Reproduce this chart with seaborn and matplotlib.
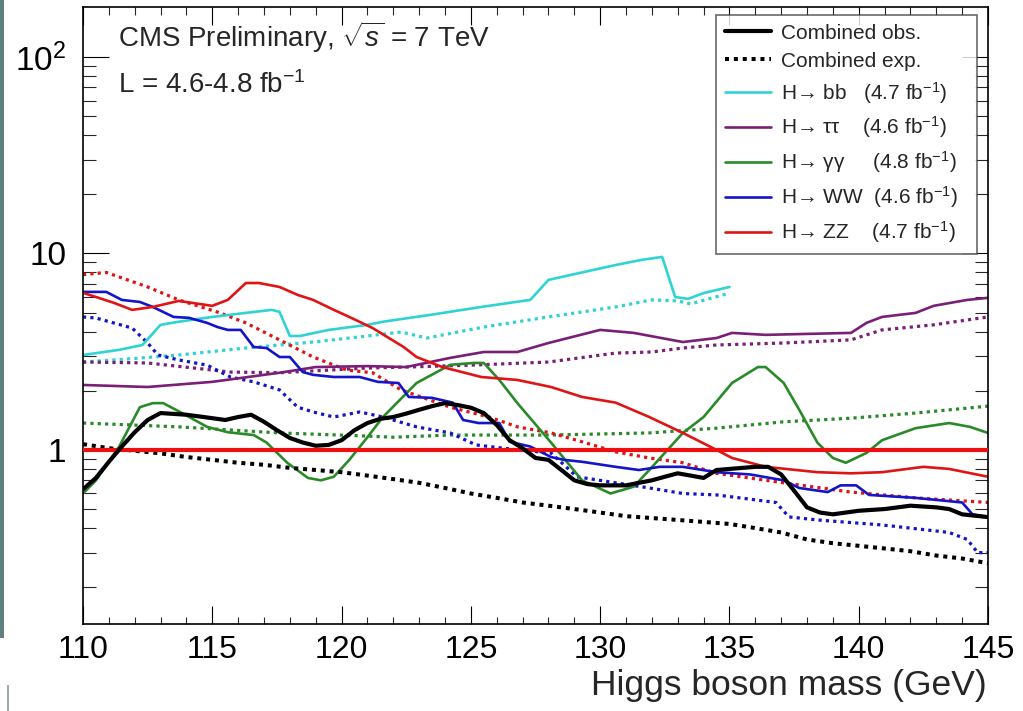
import numpy as np
import pandas as pd
import matplotlib
matplotlib.use("Agg")
import matplotlib.pyplot as plt
from matplotlib.ticker import FixedLocator, LogLocator, NullFormatter, FixedFormatter
from matplotlib.patches import Rectangle
import seaborn as sns

# ---------------- data ----------------
mass_comb_obs = [110, 110.5, 111, 111.5, 112, 112.5, 113, 114, 115, 115.5, 116, 116.5, 117, 117.5, 118, 118.5,
                 119, 119.5, 120, 120.5, 121, 121.5, 122, 122.5, 123, 123.5, 124, 124.5, 125, 125.5, 126, 126.5,
                 127, 127.5, 128, 128.5, 129, 129.5, 130, 131, 131.5, 132, 132.5, 133, 133.5, 134, 134.5, 135,
                 136, 136.5, 137, 137.5, 138, 138.5, 139, 140, 141, 142, 143, 143.5, 144, 145]
comb_obs = [0.63, 0.72, 0.87, 1.04, 1.23, 1.42, 1.54, 1.51, 1.45, 1.42, 1.47, 1.51, 1.39, 1.26, 1.15, 1.09,
            1.05, 1.06, 1.12, 1.26, 1.37, 1.44, 1.47, 1.53, 1.60, 1.67, 1.73, 1.69, 1.64, 1.54, 1.34, 1.12,
            1.02, 0.91, 0.89, 0.79, 0.70, 0.67, 0.66, 0.66, 0.68, 0.70, 0.73, 0.76, 0.74, 0.72, 0.79, 0.80,
            0.82, 0.82, 0.75, 0.62, 0.51, 0.48, 0.47, 0.49, 0.50, 0.52, 0.51, 0.50, 0.47, 0.455]

mass_comb_exp = list(range(110, 146))
comb_exp = [1.07, 1.02, 0.99, 0.96, 0.92, 0.89, 0.86, 0.84, 0.81, 0.79,
            0.77, 0.74, 0.71, 0.68, 0.64, 0.60, 0.57, 0.54, 0.52, 0.50,
            0.48, 0.46, 0.45, 0.44, 0.43, 0.42, 0.40, 0.38, 0.35, 0.335,
            0.325, 0.315, 0.305, 0.29, 0.28, 0.265]

mass_bb_obs = [110, 111.4, 112.3, 113, 113.7, 115, 116.3, 117.3, 117.6, 118, 118.4, 119.5, 121, 121.6, 123.4,
               125.4, 127.3, 128, 129.2, 130.6, 131.6, 132.4, 132.9, 133.4, 134, 135]
bb_obs = [3.04, 3.23, 3.42, 4.33, 4.49, 4.75, 4.98, 5.16, 5.04, 3.80, 3.80, 4.08, 4.33, 4.49, 4.86,
          5.34, 5.80, 7.33, 7.95, 8.73, 9.27, 9.6, 6.0, 5.87, 6.28, 6.75]
mass_bb_exp = [110, 112, 113.7, 116.3, 119, 121, 122.3, 123.3, 125.5, 128, 130.6, 132, 133, 133.5, 135]
bb_exp = [2.80, 2.92, 3.04, 3.30, 3.55, 3.80, 3.98, 3.71, 4.22, 4.75, 5.34, 5.8, 5.73, 5.53, 6.28]

mass_tt_obs = [110, 112.5, 115, 117.6, 119, 121, 122.5, 124.2, 125.5, 126.8, 128, 130, 131.3, 133.2, 134.5,
               135.1, 136.4, 139.7, 140.3, 140.9, 142.2, 142.9, 144.2, 145]
tt_obs = [2.14, 2.09, 2.22, 2.47, 2.64, 2.67, 2.64, 2.94, 3.15, 3.15, 3.50, 4.08, 3.94, 3.54, 3.71,
          3.94, 3.85, 3.94, 4.43, 4.75, 4.98, 5.41, 5.80, 5.94]
mass_tt_exp = [110, 112.5, 115.7, 117.6, 121, 122.5, 125, 128, 130.6, 132, 133.2, 134.5, 137.1, 139.7, 140.9,
               142.9, 145]
tt_exp = [2.80, 2.77, 2.49, 2.47, 2.61, 2.64, 2.70, 2.80, 3.11, 3.15, 3.30, 3.42, 3.50, 3.63, 4.08, 4.33, 4.75]

mass_gg_obs = [110, 110.5, 111, 111.4, 112.2, 112.7, 113.1, 113.75, 114.8, 115.6, 116.6, 117.1, 117.9, 118.7,
               119.2, 119.7, 120.3, 121, 121.6, 122.9, 124.2, 125.1, 125.5, 126.1, 126.8, 128.1, 129.3, 130.4,
               131.3, 131.9, 133.2, 134, 135.1, 136.1, 136.4, 137.1, 137.7, 138.4, 139, 139.5, 140.3, 140.9,
               142.2, 143.5, 144.3, 145]
gg_obs = [0.60, 0.70, 0.87, 1.04, 1.65, 1.73, 1.73, 1.56, 1.31, 1.23, 1.19, 1.09, 0.86, 0.72,
          0.70, 0.73, 0.89, 1.16, 1.47, 2.19, 2.71, 2.77, 2.77, 2.27, 1.73, 1.09, 0.70, 0.60,
          0.65, 0.79, 1.22, 1.47, 2.19, 2.64, 2.64, 2.19, 1.60, 1.09, 0.91, 0.86, 0.965, 1.12,
          1.29, 1.37, 1.31, 1.22]
mass_gg_exp = [110, 113.7, 117.6, 120.7, 122, 124.2, 128, 131.9, 134.5, 137.1, 139.7, 142.2, 145]
gg_exp = [1.37, 1.31, 1.22, 1.18, 1.16, 1.19, 1.19, 1.22, 1.29, 1.39, 1.45, 1.54, 1.67]

mass_ww_obs = [110, 110.9, 111.5, 112.2, 112.7, 113.5, 114.1, 114.8, 115.2, 115.6, 116.1, 116.6, 117.1, 117.6,
               118, 118.5, 118.9, 119.7, 120.7, 121.4, 122.2, 122.6, 123.5, 124.3, 124.7, 125.3, 126.1, 126.5,
               127.3, 128.1, 128.6, 129.3, 130.6, 131.5, 132.3, 133.2, 134.5, 135.8, 137.1, 137.7, 138.8,
               139.3, 139.9, 140.4, 142.2, 144, 144.4, 145]
ww_obs = [6.37, 6.37, 5.80, 5.66, 5.34, 4.75, 4.70, 4.43, 4.22, 4.08, 4.08, 3.34, 3.30, 2.97,
          2.97, 2.49, 2.41, 2.35, 2.35, 2.22, 2.19, 1.86, 1.84, 1.74, 1.42, 1.37, 1.37, 1.10,
          1.04, 0.92, 0.89, 0.87, 0.82, 0.79, 0.82, 0.82, 0.77, 0.75, 0.70, 0.64, 0.61,
          0.66, 0.66, 0.59, 0.57, 0.54, 0.47, 0.456]
mass_ww_exp = [110, 110.5, 111.9, 112.5, 112.9, 113.7, 114.8, 115.7, 116.6, 117.6, 118.3, 118.9, 119.7, 120.7,
               121.2, 121.6, 122.9, 124.2, 125.2, 126.8, 128.1, 129.1, 130.6, 131.9, 133.2, 134.5, 136.8,
               137.3, 138.4, 140.9, 143.5, 144.2, 144.6, 145]
ww_exp = [4.75, 4.69, 4.17, 3.50, 3.04, 2.87, 2.70, 2.35, 2.22, 2.02, 1.65, 1.56, 1.47, 1.56,
          1.51, 1.47, 1.31, 1.22, 1.06, 1.0, 0.965, 0.73, 0.68, 0.64, 0.60, 0.59, 0.54,
          0.456, 0.44, 0.415, 0.38, 0.35, 0.30, 0.30]

mass_zz_obs = [110, 110.5, 111.2, 111.9, 112.7, 113.7, 115, 115.6, 116.3, 116.8, 117.6, 118.3, 118.9, 119.7,
               120.3, 121.2, 122.4, 122.9, 123.9, 125.4, 126.8, 128.1, 129.3, 130.6, 131.9, 133.2, 134.5,
               135.1, 136.4, 138.4, 139.7, 140.9, 142.5, 143.5, 145]
zz_obs = [6.3, 6.0, 5.60, 5.16, 5.34, 5.73, 5.41, 5.80, 7.07, 7.07, 6.75, 6.15, 5.80, 5.16,
          4.75, 4.17, 3.34, 2.97, 2.64, 2.35, 2.27, 2.09, 1.86, 1.74, 1.47, 1.22, 1.0,
          0.91, 0.82, 0.77, 0.76, 0.77, 0.82, 0.80, 0.73]
mass_zz_exp = [110, 110.9, 112.5, 113.7, 115.3, 116.3, 117.6, 118.9, 120.2, 121.2, 122.3, 124.2, 125.7, 126.8,
               128.1, 129.3, 130.6, 131.9, 133.2, 134.5, 137.1, 139.7, 142.2, 145]
zz_exp = [7.8, 8.0, 6.75, 5.80, 4.98, 4.43, 3.63, 2.97, 2.55, 2.47, 2.02, 1.65, 1.47, 1.31,
          1.22, 1.10, 0.977, 0.91, 0.86, 0.76, 0.68, 0.61, 0.57, 0.54]

ref_level = 1.0
x_ticks = [110, 115, 120, 125, 130, 135, 140, 145]
y_ticks = [1, 10, 100]
y_tick_labels = ["1", "10", "$10^{2}$"]

channels = ["H\u2192 bb", "H\u2192 \u03c4\u03c4", "H\u2192 \u03b3\u03b3", "H\u2192 WW", "H\u2192 ZZ"]
lumis = ["4.7", "4.6", "4.8", "4.6", "4.7"]
pads = ["   ", "    ", "     ", "  ", "    "]

# ---------------- style ----------------
sns.set_style("ticks")
plt.rcParams["font.family"] = ["Liberation Sans", "DejaVu Sans"]
plt.rcParams["mathtext.fontset"] = "custom"
plt.rcParams["mathtext.rm"] = "Liberation Sans"
plt.rcParams["mathtext.it"] = "Liberation Sans:italic"
plt.rcParams["mathtext.bf"] = "Liberation Sans:bold"

W, H = 1023, 711
fig = plt.figure(figsize=(W / 100, H / 100), dpi=100)
fig.patch.set_facecolor("white")
L, R, T, B = 83, 988, 7, 624
ax = fig.add_axes([L / W, 1 - B / H, (R - L) / W, (B - T) / H])

col = {"bb": "#2fd3d3", "tt": "#7a1f78", "gg": "#2a8a2a", "ww": "#1414c8", "zz": "#e01414"}
dot_c = (0, (1, 1.3))
dot_k = (0, (1, 1.2))

series = [
    (mass_bb_obs, bb_obs, mass_bb_exp, bb_exp, col["bb"]),
    (mass_tt_obs, tt_obs, mass_tt_exp, tt_exp, col["tt"]),
    (mass_gg_obs, gg_obs, mass_gg_exp, gg_exp, col["gg"]),
    (mass_ww_obs, ww_obs, mass_ww_exp, ww_exp, col["ww"]),
    (mass_zz_obs, zz_obs, mass_zz_exp, zz_exp, col["zz"]),
]

for mo, vo, me, ve, c in series:
    sns.lineplot(x=me, y=ve, ax=ax, color=c, linewidth=2.3, estimator=None, sort=False, legend=False)
    ax.lines[-1].set_linestyle(dot_c)
    ax.lines[-1].set_dash_capstyle("butt")
for mo, vo, me, ve, c in series:
    sns.lineplot(x=mo, y=vo, ax=ax, color=c, linewidth=1.9, estimator=None, sort=False, legend=False)

sns.lineplot(x=mass_comb_exp, y=comb_exp, ax=ax, color="black", linewidth=2.9,
             estimator=None, sort=False, legend=False)
ax.lines[-1].set_linestyle(dot_k)
ax.lines[-1].set_dash_capstyle("butt")
ax.axhline(ref_level, color="#ee1010", linewidth=3.0, zorder=5)
sns.lineplot(x=mass_comb_obs, y=comb_obs, ax=ax, color="black", linewidth=3.0,
             estimator=None, sort=False, legend=False)
ax.lines[-1].set_zorder(6)

ax.set_yscale("log")
ax.set_xlim(110, 145)
ax.set_ylim(0.130, 179.5)
ax.set_xlabel("")
ax.set_ylabel("")

ax.xaxis.set_major_locator(FixedLocator(x_ticks))
ax.xaxis.set_minor_locator(FixedLocator(np.arange(110, 146, 1)))
ax.yaxis.set_major_locator(FixedLocator(y_ticks))
ax.yaxis.set_major_formatter(FixedFormatter(y_tick_labels))
ax.yaxis.set_minor_locator(LogLocator(base=10, subs=np.arange(2, 10)))
ax.yaxis.set_minor_formatter(NullFormatter())

ax.tick_params(axis="x", which="major", direction="in", length=13, width=0.8, top=True,
               labelsize=23, pad=8, colors="black")
ax.tick_params(axis="x", which="minor", direction="in", length=5.4, width=0.8, top=True)
ax.tick_params(axis="y", which="major", direction="in", length=19, width=0.8, right=True,
               labelsize=24, pad=12, colors="black")
ax.tick_params(axis="y", which="minor", direction="in", length=9.4, width=0.8, right=True)
for s in ax.spines.values():
    s.set_linewidth(1.2)
    s.set_color("black")

# legend
handles, labels = [], []
h_obs = plt.Line2D([], [], color="black", linewidth=3.0)
h_exp = plt.Line2D([], [], color="black", linewidth=2.9, linestyle=dot_k, dash_capstyle="butt")
handles += [h_obs, h_exp]
labels += ["Combined obs.", "Combined exp."]
for (mo, vo, me, ve, c), ch, lu, p in zip(series, channels, lumis, pads):
    handles.append(plt.Line2D([], [], color=c, linewidth=1.9))
    labels.append(ch + p + "(" + lu + " fb$^{-1}$)")

leg = ax.legend(handles, labels, loc="upper left",
                bbox_to_anchor=((716 - L) / (R - L), (B - 15) / (B - T), (977 - 716) / (R - L), 0.0),
                mode="expand", borderaxespad=0, fontsize=15, handlelength=2.2, handletextpad=0.5,
                labelspacing=0.43, borderpad=0.42, frameon=True, fancybox=False)
leg.get_frame().set_edgecolor("#444444")
leg.get_frame().set_linewidth(1.2)
leg.set_zorder(10)

# annotations
ax.text((118 - L) / (R - L), (B - 47) / (B - T), "CMS Preliminary, $\\sqrt{s}$ = 7 TeV",
        transform=ax.transAxes, fontsize=20, va="baseline", ha="left")
ax.text((118 - L) / (R - L), (B - 93) / (B - T), "L = 4.6-4.8 fb$^{-1}$",
        transform=ax.transAxes, fontsize=20, va="baseline", ha="left")

fig.text(987 / W, 1 - 695 / H, "Higgs boson mass (GeV)", fontsize=25.5, ha="right", va="baseline")

# slide border remnants at the left edge
fig.patches.append(Rectangle((0, 1 - 638 / H), 4 / W, 638 / H, transform=fig.transFigure,
                             facecolor="#5f807d", edgecolor="none"))
fig.patches.append(Rectangle((7 / W, 0), 2 / W, 26 / H, transform=fig.transFigure,
                             facecolor="#9aaeac", edgecolor="none"))

fig.savefig("out.png", dpi=100)
